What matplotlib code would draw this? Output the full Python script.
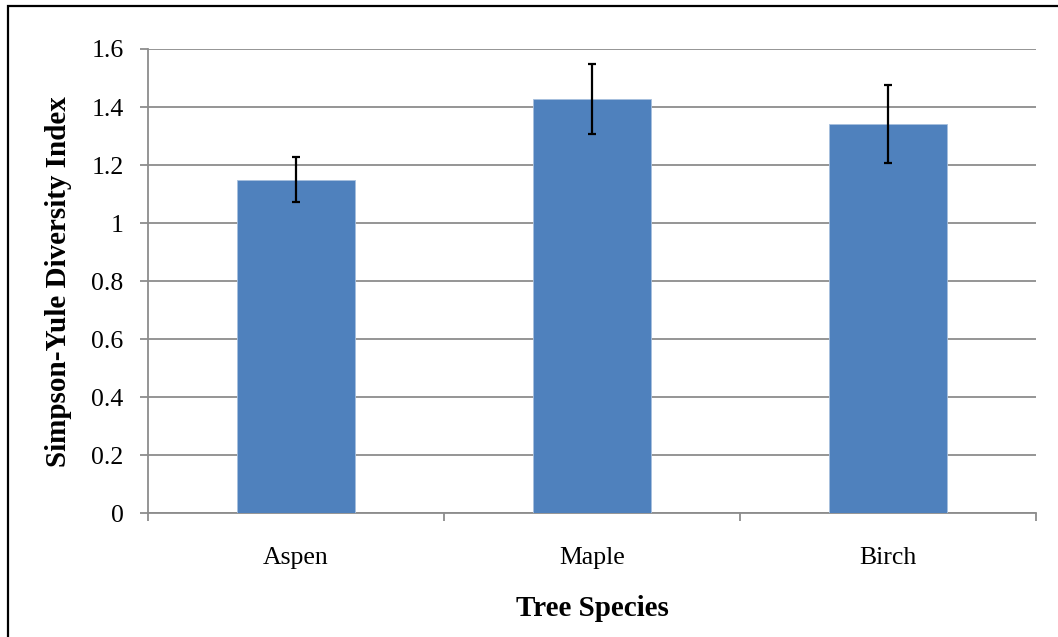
import matplotlib.pyplot as plt
from matplotlib.patches import Rectangle
from matplotlib.ticker import FixedLocator

species = ["Aspen", "Maple", "Birch"]
diversity = [1.15, 1.428, 1.341]
err = [0.077, 0.12, 0.135]
yticks = [0, 0.2, 0.4, 0.6, 0.8, 1, 1.2, 1.4, 1.6]
ytick_labels = ["0", "0.2", "0.4", "0.6", "0.8", "1", "1.2", "1.4", "1.6"]

plt.rcParams['font.family'] = ['Liberation Serif', 'DejaVu Serif']

fig = plt.figure(figsize=(10.58, 6.37), dpi=100)
ax = fig.add_axes([0.1399, 0.1939, 0.9792 - 0.1399, 0.9231 - 0.1939])

x = list(range(len(species)))
ax.bar(x, diversity, width=0.4, color='#4F81BD', edgecolor='#A7C0DE', linewidth=0.6, zorder=3)
ax.errorbar(x, diversity, yerr=err, fmt='none', ecolor='black', elinewidth=1.6,
            capsize=3.2, capthick=1.6, zorder=4)

ax.set_xlim(-0.5, 2.5)
ax.set_ylim(0, 1.6)
ax.set_yticks(yticks)
ax.set_yticklabels(ytick_labels)
ax.set_xticks(x)
ax.set_xticklabels(species)
ax.xaxis.set_minor_locator(FixedLocator([-0.5, 0.5, 1.5, 2.5]))

ax.grid(axis='y', color='#8C8C8C', linewidth=1.3, zorder=0)
for s in ['top', 'right']:
    ax.spines[s].set_visible(False)
for s in ['left', 'bottom']:
    ax.spines[s].set_color('#8C8C8C')
    ax.spines[s].set_linewidth(1.3)

ax.tick_params(axis='y', direction='out', length=6, width=1.3, color='#8C8C8C',
               labelsize=18.5, pad=11.5)
ax.tick_params(axis='x', which='major', length=0, labelsize=18.5, pad=24)
ax.tick_params(axis='x', which='minor', direction='out', length=6, width=1.3, color='#8C8C8C')

ax.set_xlabel("Tree Species", fontsize=21, fontweight='bold', labelpad=19)
ax.set_ylabel("Simpson-Yule Diversity Index", fontsize=21, fontweight='bold', labelpad=14)

# chart border (right and bottom edges fall outside the image)
fig.patches.append(Rectangle((8 / 1058, -0.05), 1.2, 1 - 6 / 637 + 0.05,
                             transform=fig.transFigure, fill=False,
                             edgecolor='black', linewidth=1.6))

fig.savefig("out.png", dpi=100)
